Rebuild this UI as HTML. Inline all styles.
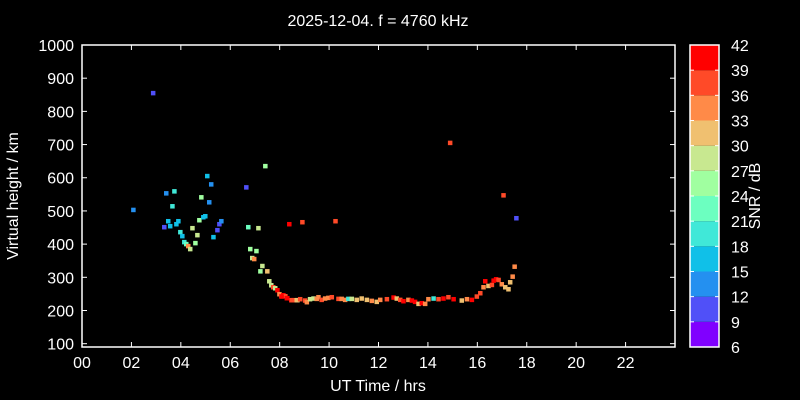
<!DOCTYPE html>
<html><head><meta charset="utf-8"><style>
body{margin:0;background:#000;}
svg{display:block;font-family:"Liberation Sans",sans-serif;}
</style></head><body>
<svg id="chart" width="800" height="400" viewBox="0 0 800 400">
<rect width="800" height="400" fill="#000"/>
<text x="378" y="26" fill="#fff" font-size="16" text-anchor="middle">2025-12-04. f = 4760 kHz</text>
<g id="axes"></g>
<g id="marks"></g>
<g id="cbar"></g>
<text x="378" y="391" fill="#fff" font-size="16" text-anchor="middle">UT Time / hrs</text>
<text transform="translate(18,196) rotate(-90)" fill="#fff" font-size="16" text-anchor="middle">Virtual height / km</text>
<text transform="translate(760,196) rotate(-90)" fill="#fff" font-size="16" text-anchor="middle">SNR / dB</text>
</svg>
<script>
const times=[2.08,2.88,3.33,3.41,3.49,3.57,3.66,3.74,3.82,3.90,3.98,4.06,4.14,4.22,4.30,4.38,4.47,4.59,4.67,4.75,4.83,4.91,4.99,5.07,5.15,5.23,5.32,5.48,5.56,5.64,6.65,6.73,6.81,6.89,6.97,7.06,7.14,7.22,7.30,7.42,7.50,7.58,7.66,7.74,7.82,7.91,7.99,8.07,8.15,8.23,8.31,8.39,8.47,8.56,8.72,8.92,10.26,14.9,17.06,17.58,
8.08,8.29,8.49,8.69,8.83,9.03,9.10,9.23,9.37,9.50,9.57,9.70,9.84,9.97,10.11,10.38,10.51,10.65,10.78,10.92,11.12,11.32,11.53,11.73,11.93,12.07,12.34,12.61,12.74,12.88,13.01,13.21,13.35,13.48,13.62,13.75,13.89,14.02,14.23,14.43,14.63,14.83,15.04,15.37,15.58,15.78,15.98,16.12,16.25,16.32,16.45,16.59,16.66,16.76,16.86,16.99,17.13,17.26,17.33,17.43,17.51];
const heights=[503,855,451,553,469,454,514,559,460,469,436,424,406,400,394,385,448,403,427,472,541,481,484,605,526,580,421,442,460,469,571,451,385,358,355,379,448,318,334,635,318,288,276,270,267,261,249,243,246,243,237,460,231,231,231,466,469,705,547,478,
242,237,231,231,234,230,225,234,236,235,240,232,236,238,240,235,235,232,235,235,232,236,232,229,226,232,234,239,236,232,228,232,230,226,220,222,220,234,236,234,236,240,234,230,234,232,242,252,270,288,274,277,290,294,292,279,270,264,285,302,332];
const snrs=[13,10,10,13,16,16,19,19,16,16,19,16,19,22,34,28,28,25,28,25,25,16,16,16,13,13,16,10,10,13,10,22,25,28,34,25,28,25,28,25,31,28,28,37,28,40,34,37,40,37,40,40,40,37,31,37,37,37,37,10,
40,40,37,31,37,37,34,28,28,34,34,37,34,34,37,37,34,34,19,28,31,31,31,34,31,34,37,40,31,37,40,34,40,40,31,40,34,34,19,37,40,37,40,31,34,40,37,37,34,40,31,37,40,40,37,34,31,31,31,34,34];
const yTicks=[100,200,300,400,500,600,700,800,900,1000];
const xTicks=[0,2,4,6,8,10,12,14,16,18,20,22];
const cbTicks=[6,9,12,15,18,21,24,27,30,33,36,39,42];
const cbColors=["#8000ff","#5050f8","#2490f0","#10c0e8","#40e8d8","#6cffc0","#a0ffa0","#c8e890","#f0c070","#ff8a48","#ff4a28","#ff0000"];
const L=82,R=675,T=45,B=347,XMIN=0,XMAX=24,YMIN=90,YMAX=1000;
const sx=t=>L+(t-XMIN)/(XMAX-XMIN)*(R-L);
const sy=h=>T+(YMAX-h)/(YMAX-YMIN)*(B-T);
const NS="http://www.w3.org/2000/svg";
function mk(tag,attrs,parent,text){const e=document.createElementNS(NS,tag);for(const k in attrs)e.setAttribute(k,attrs[k]);if(text!==undefined)e.textContent=text;parent.appendChild(e);return e;}
const axes=document.getElementById('axes');
const frame=mk('rect',{x:L,y:T,width:R-L,height:B-T,fill:'none',stroke:'#fff','stroke-width':1.5},axes);


yTicks.forEach(v=>{const y=sy(v);
 mk('line',{x1:L,x2:L+5,y1:y,y2:y,stroke:'#fff'},axes);
 mk('line',{x1:R,x2:R-5,y1:y,y2:y,stroke:'#fff'},axes);
 const t=mk('text',{x:L-8,y:y+6,fill:'#fff','font-size':16,'text-anchor':'end'},axes,String(v));
 
 
});
xTicks.forEach(v=>{const x=sx(v);
 mk('line',{x1:x,x2:x,y1:B,y2:B-5,stroke:'#fff'},axes);
 mk('line',{x1:x,x2:x,y1:T,y2:T+5,stroke:'#fff'},axes);
 const t=mk('text',{x:x,y:B+21,fill:'#fff','font-size':16,'text-anchor':'middle'},axes,String(v).padStart(2,'0'));
 
 
});
function col(s){let i=Math.floor((s-6)/3);i=Math.max(0,Math.min(11,i));return cbColors[i];}
const marks=document.getElementById('marks');
times.forEach((t,i)=>{
 const r=mk('rect',{x:sx(t)-2.25,y:sy(heights[i])-2.25,width:4.5,height:4.5,fill:col(snrs[i])},marks);
 
 
});
const cb=document.getElementById('cbar');
const CL=690,CR=719;
const cy=v=>B-(v-6)/(42-6)*(B-T);
cbColors.forEach((c,i)=>{
 const r=mk('rect',{x:CL,y:cy(cbTicks[i+1]),width:CR-CL,height:cy(cbTicks[i])-cy(cbTicks[i+1]),fill:c},cb);
 
 
});
mk('rect',{x:CL,y:T,width:CR-CL,height:B-T,fill:'none',stroke:'#fff','stroke-width':1.5},cb);
cbTicks.forEach(v=>{const y=cy(v);
 mk('line',{x1:CL,x2:CL+4,y1:y,y2:y,stroke:'#fff'},cb);
 mk('line',{x1:CR,x2:CR-4,y1:y,y2:y,stroke:'#fff'},cb);
 const t=mk('text',{x:731,y:y+6,fill:'#fff','font-size':16},cb,String(v));
 
 
});
</script>
</body></html>
